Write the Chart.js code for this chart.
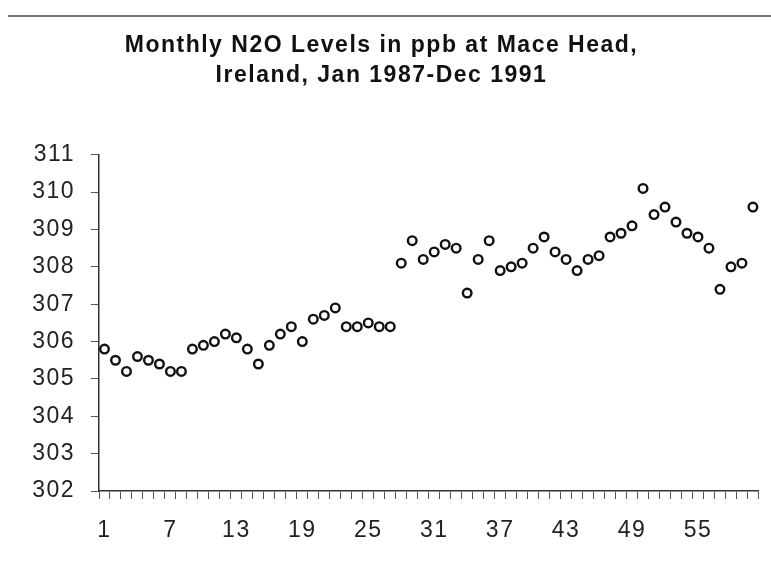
<!DOCTYPE html>
<html>
<head>
<meta charset="utf-8">
<script src="https://cdn.jsdelivr.net/npm/chart.js@4.4.0/dist/chart.umd.min.js"></script>
<style>
  html, body { margin: 0; padding: 0; background: #fff; }
  .wrap { position: relative; width: 771px; height: 568px; }
  .rule { position: absolute; left: 8px; right: 0; top: 15px; height: 0; border-top: 2px solid #777; }
</style>
</head>
<body>
<div class="wrap">
  <div class="rule"></div>
  <canvas id="n2oChart" width="771" height="568"></canvas>
</div>
<script>
// Month index, Jan 1987 = 1 ... Dec 1991 = 60
const months = [];
for (let m = 1; m <= 60; m++) months.push(String(m));

// N2O in ppb
const n2o = [
    305.8, 305.5, 305.2, 305.6, 305.5, 305.4, 305.2, 305.2, 305.8, 305.9,
    306.0, 306.2, 306.1, 305.8, 305.4, 305.9, 306.2, 306.4, 306.0, 306.6,
    306.7, 306.9, 306.4, 306.4, 306.5, 306.4, 306.4, 308.1, 308.7, 308.2,
    308.4, 308.6, 308.5, 307.3, 308.2, 308.7, 307.9, 308.0, 308.1, 308.5,
    308.8, 308.4, 308.2, 307.9, 308.2, 308.3, 308.8, 308.9, 309.1, 310.1,
    309.4, 309.6, 309.2, 308.9, 308.8, 308.5, 307.4, 308.0, 308.1, 309.6
];

const yMin = 302;
const yMax = 311;
const labelEvery = 6;

const font = "'Liberation Sans', Arial, sans-serif";

// the original text is a bit wider than Liberation Sans, so space the letters out
const letterSpacing = {
    id: 'letterSpacing',
    beforeDraw(chart) { chart.ctx.letterSpacing = '1.5px'; },
    beforeDatasetsDraw(chart) { chart.ctx.letterSpacing = '0px'; }
};

const ctx = document.getElementById('n2oChart').getContext('2d');
const n2oChart = new Chart(ctx, {
    type: 'line',
    data: {
        labels: months,
        datasets: [{
            data: n2o,
            showLine: false,
            pointStyle: 'circle',
            pointRadius: 4.3,
            pointBorderWidth: 2.4,
            pointBorderColor: '#111',
            pointBackgroundColor: '#fff'
        }]
    },
    plugins: [letterSpacing],
    options: {
        responsive: false,
        animation: false,
        layout: { padding: { left: 0, right: 8, top: 0, bottom: 0 } },
        plugins: {
            legend: { display: false },
            tooltip: { enabled: false },
            title: {
                display: true,
                text: ['Monthly N2O Levels in ppb at Mace Head,', 'Ireland, Jan 1987-Dec 1991'],
                color: '#111',
                font: { family: font, size: 23, weight: 'bold', lineHeight: 1.3 },
                padding: { top: 31, bottom: 64 }
            }
        },
        scales: {
            x: {
                type: 'category',
                offset: true,
                afterFit: (scale) => { scale.height = 77; },
                grid: {
                    offset: true,
                    drawOnChartArea: false,
                    drawTicks: true,
                    tickLength: 8,
                    color: '#555',
                    lineWidth: 1
                },
                border: { display: true, color: '#333', width: 1.5 },
                ticks: {
                    autoSkip: false,
                    maxRotation: 0,
                    padding: 18,
                    color: '#222',
                    font: { family: font, size: 23 },
                    callback: function (val, i) {
                        return i % labelEvery === 0 ? this.getLabelForValue(val) : '';
                    }
                }
            },
            y: {
                min: yMin,
                max: yMax,
                afterFit: (scale) => { scale.width = 99; },
                grid: {
                    drawOnChartArea: false,
                    drawTicks: true,
                    tickLength: 8,
                    color: '#555',
                    lineWidth: 1
                },
                border: { display: true, color: '#333', width: 1.5 },
                ticks: {
                    stepSize: 1,
                    padding: 16,
                    color: '#222',
                    font: { family: font, size: 23 }
                }
            }
        }
    }
});
</script>
</body>
</html>
